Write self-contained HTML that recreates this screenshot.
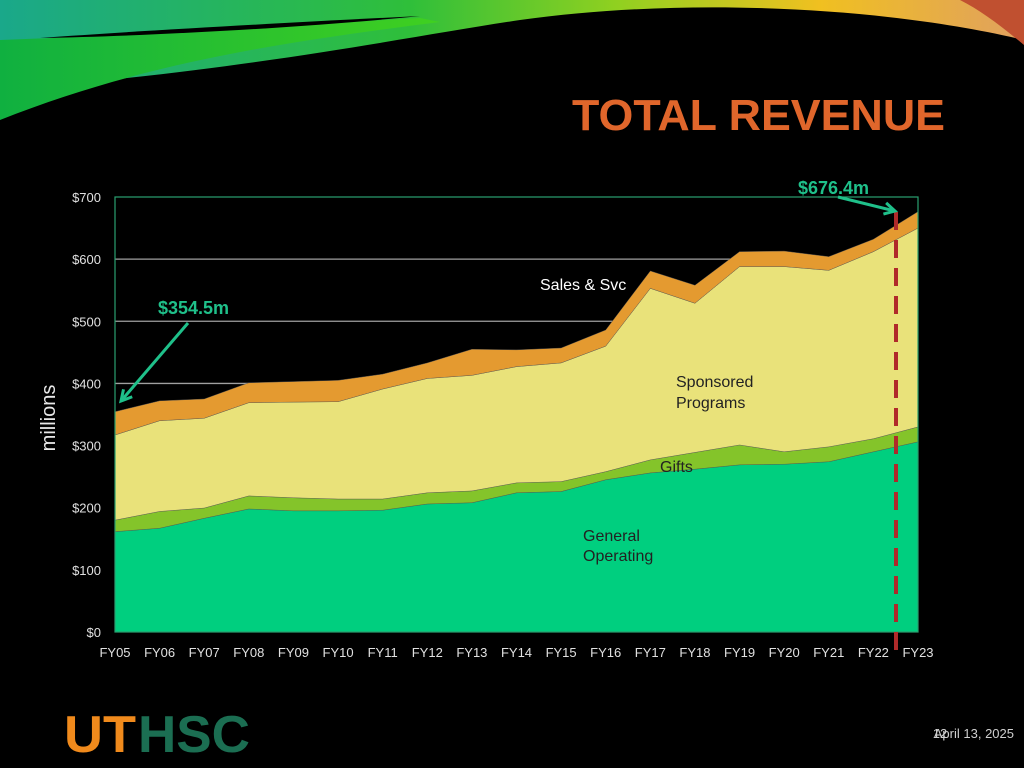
<!DOCTYPE html>
<html><head><meta charset="utf-8"><style>
body{margin:0;background:#000;width:1024px;height:768px;overflow:hidden;font-family:"Liberation Sans",sans-serif}
svg{display:block}
</style></head><body>
<svg width="1024" height="768">
<defs>
<linearGradient id="g1" x1="0" y1="0" x2="1" y2="0"><stop offset="0" stop-color="#1aa88a"/><stop offset="0.4" stop-color="#2fbf3a"/><stop offset="0.6" stop-color="#8fd020"/><stop offset="0.8" stop-color="#f0c020"/><stop offset="1" stop-color="#e0a060"/></linearGradient>
<linearGradient id="g2" x1="0" y1="0" x2="1" y2="0"><stop offset="0" stop-color="#10b040"/><stop offset="1" stop-color="#40d020"/></linearGradient>
</defs>
<g>
<path d="M0,0 H1024 V40 C900,10 700,-5 520,20 C400,38 250,70 0,90 Z" fill="url(#g1)"/>
<path d="M0,40 C150,35 300,25 420,18 L440,22 C300,40 150,60 0,120 Z" fill="url(#g2)"/>
<path d="M40,38 C150,30 300,22 420,16 C300,28 150,36 40,38Z" fill="#000"/>
<path d="M960,0 H1024 V45 C1000,25 980,10 960,0Z" fill="#c05030"/>
</g>
<text x="945" y="130" text-anchor="end" font-size="44" font-weight="bold" fill="#e0662b" textLength="373" lengthAdjust="spacingAndGlyphs">TOTAL REVENUE</text>
<g id="chart"></g>
<text x="55" y="418" font-size="20" fill="#e8e8e8" text-anchor="middle" transform="rotate(-90 55 418)">millions</text>
<g>
<text x="64" y="752" font-size="52" font-weight="bold" fill="#f08a1c" textLength="72" lengthAdjust="spacingAndGlyphs">UT</text>
<text x="138" y="752" font-size="52" font-weight="bold" fill="#1b6e52" textLength="112" lengthAdjust="spacingAndGlyphs">HSC</text>
</g>
<text x="1014" y="738" text-anchor="end" font-size="13" fill="#cfcfcf">April 13, 2025</text>
<text x="940" y="738" text-anchor="middle" font-size="13" fill="#cfcfcf">12</text>
</svg>
<script>
const categories=["FY05","FY06","FY07","FY08","FY09","FY10","FY11","FY12","FY13","FY14","FY15","FY16","FY17","FY18","FY19","FY20","FY21","FY22","FY23"];
const generalOperating=[161.5,167,183,198,195,195,196,206,208,224,226,245,256,262,269,270,274,290,306];
const gifts=[18.5,27,16.5,21,21,19,18,18,19,16,16,13,21,27,32,20,24,21,24];
const sponsoredPrograms=[137,146,144.5,150,154,156.6,177,184,186,187,191,202,276,240,287,298,284,301,320];
const salesSvc=[37.5,32,31,32,33,34.4,24,25,42,27,24,26,28,29,24,25,22,20,26.4];
const yTicks=[0,100,200,300,400,500,600,700];
const yTickLabels=["$0","$100","$200","$300","$400","$500","$600","$700"];
const NS="http://www.w3.org/2000/svg";
const L=115,R=918,T=197,B=632,YMAX=700;
const xs=i=>L+(R-L)*i/(categories.length-1);
const ys=v=>B-(B-T)*v/YMAX;
const g=document.getElementById('chart');
function mk(t,a){const e=document.createElementNS(NS,t);for(const k in a)e.setAttribute(k,a[k]);g.appendChild(e);return e;}
yTicks.forEach((v,i)=>{
 if(v>0&&v<YMAX){const ln=mk('line',{x1:L,x2:R,y1:ys(v),y2:ys(v),stroke:'#a0a0a0','stroke-width':1.3});
 
 }
 const t=mk('text',{x:101,y:ys(v)+5,'text-anchor':'end','font-size':13,fill:'#e0e0e0'});
 t.textContent=yTickLabels[i];
 
 
});
const series=[[generalOperating,'#00cf7f','general-operating-area'],[gifts,'#84c42a','gifts-area'],[sponsoredPrograms,'#e9e27a','sponsored-programs-area'],[salesSvc,'#e49a30','sales-svc-area']];
let base=categories.map(()=>0);
series.forEach(([vals,col,name])=>{
 const top=base.map((b,i)=>b+vals[i]);
 let d='M'+top.map((v,i)=>xs(i)+','+ys(v)).join(' L');
 for(let i=base.length-1;i>=0;i--)d+=' L'+xs(i)+','+ys(base[i]);
 const p=mk('path',{d:d+'Z',fill:col,stroke:'#555',"stroke-width":0.4});
 
 
 base=top;
});
const fr=mk('rect',{x:L,y:T,width:R-L,height:B-T,fill:'none',stroke:'#2aa070','stroke-width':1.2});


categories.forEach((c,i)=>{
 const t=mk('text',{x:xs(i),y:657,'text-anchor':'middle','font-size':13,fill:'#e0e0e0'});
 t.textContent=c;
 
 
});
const labels=[["Sales & Svc",540,290,'#fff'],["Sponsored",676,387,'#222'],["Programs",676,408,'#222'],["Gifts",660,472,'#222'],["General",583,541,'#222'],["Operating",583,561,'#222']];
labels.forEach(([s,x,y,c])=>{const t=mk('text',{x:x,y:y,'font-size':16,fill:c});t.textContent=s;
 
 });
const dl=mk('line',{x1:896,y1:212,x2:896,y2:650,stroke:'#b02a2a','stroke-width':4,'stroke-dasharray':'18,10'});


function arrow(x1,y1,x2,y2,name){
 const a=mk('line',{x1,y1,x2,y2,stroke:'#1fc08a','stroke-width':3});
 
 
 const ang=Math.atan2(y2-y1,x2-x1),s=12;
 const h=mk('path',{d:`M${x2-s*Math.cos(ang-0.5)},${y2-s*Math.sin(ang-0.5)} L${x2},${y2} L${x2-s*Math.cos(ang+0.5)},${y2-s*Math.sin(ang+0.5)}`,fill:'none',stroke:'#1fc08a','stroke-width':3});
 
 
}
arrow(188,323,121,401,'start-arrow');
arrow(838,197,895,211,'end-arrow');
const a1=mk('text',{x:158,y:314,'font-size':18,'font-weight':'bold',fill:'#1fc08a'});a1.textContent='$354.5m';


const a2=mk('text',{x:798,y:194,'font-size':18,'font-weight':'bold',fill:'#1fc08a'});a2.textContent='$676.4m';


</script>
</body></html>
